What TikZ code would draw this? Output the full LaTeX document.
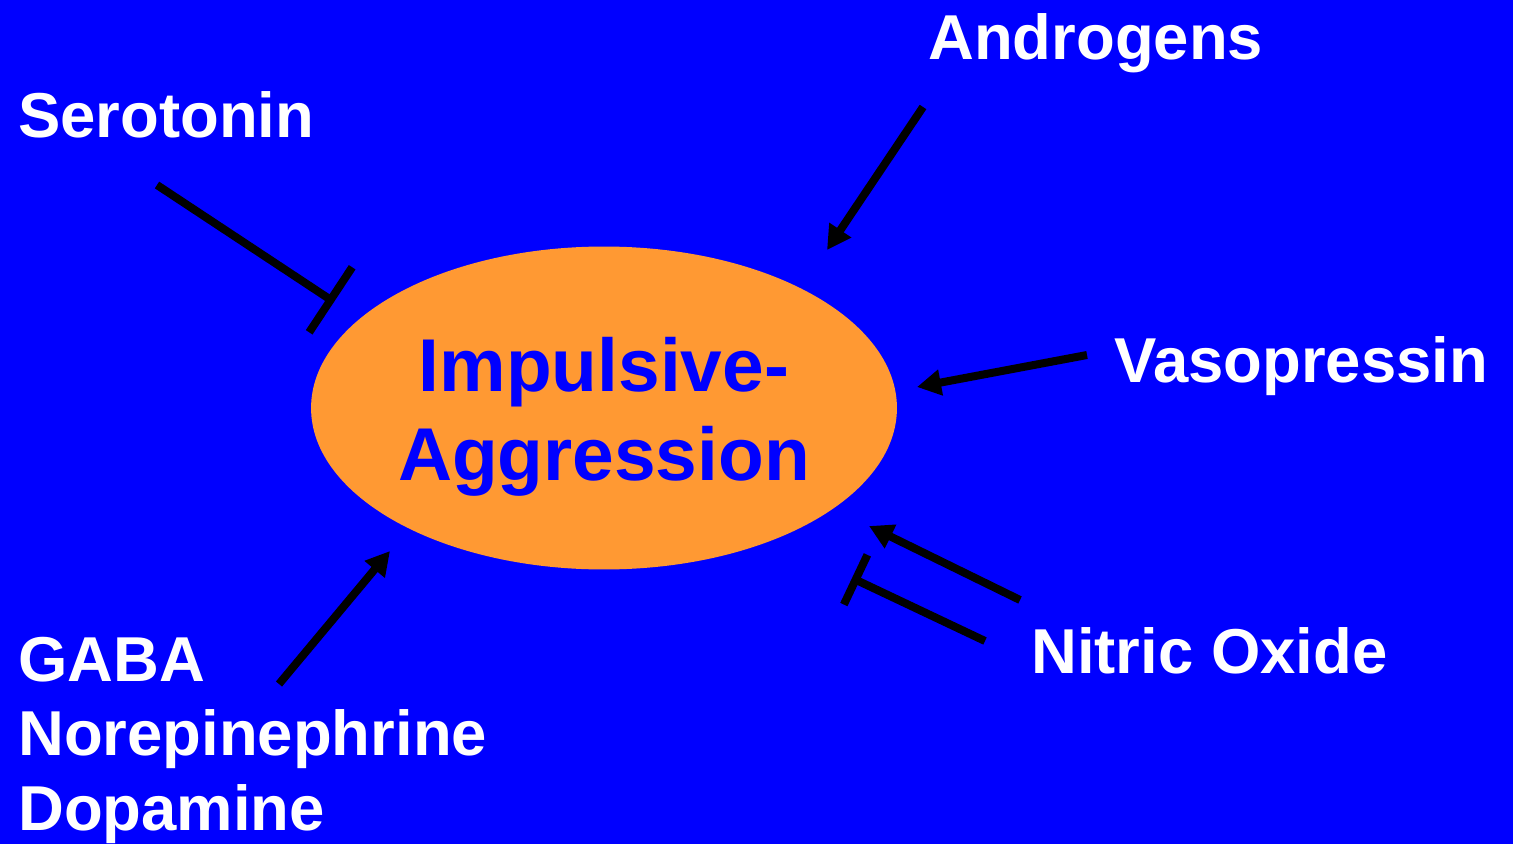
\documentclass[tikz,border=0pt]{standalone}
\usepackage{fontspec}
\setmainfont{Liberation Sans}
\usetikzlibrary{shapes.geometric,positioning,arrows.meta}
\definecolor{slidebg}{HTML}{0000FF}
\definecolor{ovalfill}{HTML}{FF9933}

\begin{document}
\begin{tikzpicture}[x=0.02cm, y=-0.02cm, >={Triangle[length=0.48cm,width=0.5cm]},
  lbl/.style={text=white, font=\fontsize{36.1}{42.3}\selectfont\bfseries, inner sep=0pt},
  link/.style={draw=black, line width=0.16cm}]
  % Slide background
  \fill[slidebg] (0,0) rectangle (1513,844);
  \useasboundingbox (0,0) rectangle (1513,844);

  % Central oval
  \node[ellipse, fill=ovalfill, minimum width=11.72cm, minimum height=6.46cm, inner sep=0pt] (agg) at (604,408) {};
  \node[text=slidebg, font=\fontsize{42.6}{50.4}\selectfont\bfseries, align=center, inner sep=0pt] (aggtext) at (604,417) {Impulsive-\\Aggression};

  % Modulators
  \node[lbl, anchor=base west] (sero) at (18,138) {Serotonin};
  \node[lbl, anchor=base west] (andro) at (928,60) {Androgens};
  \node[lbl, anchor=base west] (vaso) at (1114,382) {Vasopressin};
  \node[lbl, anchor=base west] (nitric) at (1031,673) {Nitric Oxide};
  \node[lbl, anchor=north west, align=left] (gaba) at (18,637) {GABA\\Norepinephrine\\Dopamine};

  % Connector ends
  \coordinate (sero-from) at (157,185);
  \coordinate (sero-to) at (334,302);
  \coordinate (andro-from) at (923,107);
  \coordinate (andro-to) at (827,250);
  \coordinate (vaso-from) at (1087,355);
  \coordinate (vaso-to) at (917,387);
  \coordinate (no-from) at (1020,600);
  \coordinate (no-to) at (869,526);
  \coordinate (noinh-from) at (985,641);
  \coordinate (noinh-to) at (852,578);
  \coordinate (gaba-from) at (279,684);
  \coordinate (gaba-to) at (390,551);

  \draw[link, -{Bar[width=1.56cm]}] (sero-from) -- (sero-to);
  \draw[link, ->] (andro-from) -- (andro-to);
  \draw[link, ->] (vaso-from) -- (vaso-to);
  \draw[link, ->] (no-from) -- (no-to);
  \draw[link, -{Bar[width=1.1cm]}] (noinh-from) -- (noinh-to);
  \draw[link, ->] (gaba-from) -- (gaba-to);
\end{tikzpicture}
\end{document}
